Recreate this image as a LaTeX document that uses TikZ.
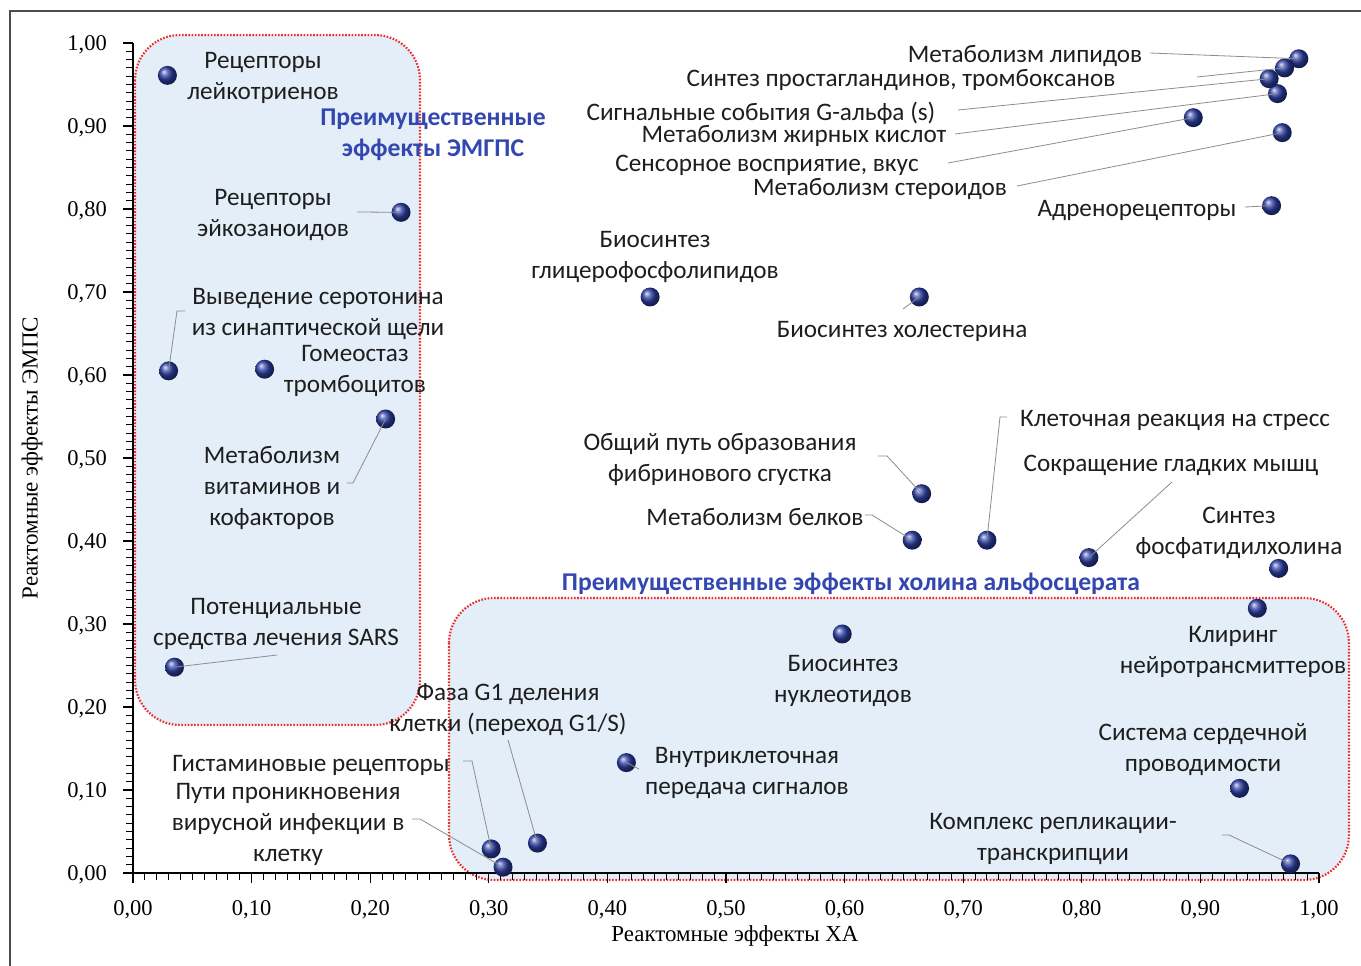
\documentclass[tikz,border=0pt]{standalone}
\usepackage{fontspec}
\setmainfont{Liberation Serif}
\newfontfamily\lblfont{Carlito}
\usepackage{tikz}
\usetikzlibrary{positioning,calc}
\definecolor{dotblue}{HTML}{2D40A6}
\definecolor{zoneblue}{HTML}{E4EEF8}
\definecolor{zonered}{HTML}{EE2A2A}
\definecolor{ttlblue}{HTML}{3347B0}
\definecolor{leadgray}{HTML}{8C8C8C}
\definecolor{txtdark}{HTML}{1E1E1E}

\begin{document}
\begin{tikzpicture}[x=1pt,y=-1pt,font=\lblfont\fontsize{25.2}{31}\selectfont]
        \tikzstyle{zone}=[fill=zoneblue,draw=zonered,line width=2.2pt,dash pattern=on 1.6pt off 1.6pt]
        \tikzstyle{lbl}=[align=center,inner sep=0pt,text=txtdark,yshift=-2pt]
        \tikzstyle{ttl}=[align=center,inner sep=0pt,text=ttlblue,yshift=-1pt,font=\lblfont\bfseries\fontsize{25.6}{31.5}\selectfont]
        \tikzstyle{pt}=[circle,inner sep=0pt,minimum size=19pt,shading=ball,ball color=dotblue]
        \tikzstyle{lead}=[draw=leadgray,line width=0.8pt]
        \tikzstyle{axis}=[line width=1.2pt,black]
        \tikzstyle{num}=[inner sep=0pt,font=\fontsize{22.5}{26}\selectfont]
        \useasboundingbox (0,0) rectangle (1361,966);
        \draw[line width=1.2pt,black!70] (10,966) -- (10,11) -- (1361,11);
        % highlighted regions
        \draw[zone,rounded corners=45pt] (135,35) rectangle (420,725);
        \draw[zone,rounded corners=45pt] (449,598) rectangle (1349,880);
        % axes in data units
        \begin{scope}[shift={(133,873)},x=1186pt,y=830pt]
          \draw[axis] (0,1) -- (0,0) -- (1,0);
          \foreach \i in {0,...,100} {
            \draw[axis,line width=0.9pt] (\i/100,0) -- ++(0,-7pt);
            \draw[axis,line width=0.9pt] (0,\i/100) -- ++(-7pt,0);
          }
          \foreach \i in {0,...,10} {
            \draw[axis] (\i/10,0) -- ++(0,-10pt);
            \draw[axis] (0,\i/10) -- ++(-10pt,0);
            \node[num,anchor=east,xshift=-26pt,yshift=-2pt] at (0,\i/10) {\ifnum\i<10 0,\i0\else 1,00\fi};
            \node[num,yshift=-37pt] at (\i/10,0) {\ifnum\i<10 0,\i0\else 1,00\fi};
          }
          % data points
          \node[pt] (dLeuk)   at (0.029,0.961) {};
          \node[pt] (dEico)   at (0.226,0.796) {};
          \node[pt] (dSero)   at (0.030,0.605) {};
          \node[pt] (dThromb) at (0.111,0.607) {};
          \node[pt] (dVit)    at (0.213,0.547) {};
          \node[pt] (dSars)   at (0.035,0.248) {};
          \node[pt] (dHist)   at (0.302,0.029) {};
          \node[pt] (dVir)    at (0.312,0.007) {};
          \node[pt] (dGone)   at (0.341,0.036) {};
          \node[pt] (dSig)    at (0.416,0.133) {};
          \node[pt] (dNucl)   at (0.598,0.288) {};
          \node[pt] (dClear)  at (0.948,0.319) {};
          \node[pt] (dPhos)   at (0.966,0.367) {};
          \node[pt] (dCard)   at (0.933,0.102) {};
          \node[pt] (dRepl)   at (0.976,0.011) {};
          \node[pt] (dSmooth) at (0.806,0.380) {};
          \node[pt] (dStress) at (0.720,0.401) {};
          \node[pt] (dProt)   at (0.657,0.401) {};
          \node[pt] (dFibr)   at (0.665,0.457) {};
          \node[pt] (dChol)   at (0.663,0.694) {};
          \node[pt] (dGlyc)   at (0.436,0.694) {};
          \node[pt] (dAdr)    at (0.960,0.804) {};
          \node[pt] (dSter)   at (0.969,0.892) {};
          \node[pt] (dSens)   at (0.894,0.910) {};
          \node[pt] (dFat)    at (0.965,0.939) {};
          \node[pt] (dLip)    at (0.983,0.981) {};
          \node[pt] (dProst)  at (0.971,0.970) {};
          \node[pt] (dGalpha) at (0.958,0.957) {};
        \end{scope}
        \node[num,font=\fontsize{22.9}{26}\selectfont] (xttl) at (735,936) {Реактомные эффекты ХА};
        \node[num,rotate=90,font=\fontsize{23}{26}\selectfont] (yttl) at (32,458) {Реактомные эффекты ЭМПС};
        % group titles
        \node[ttl] (tEmps) at (433,134) {Преимущественные\\эффекты ЭМГПС};
        \node[ttl] (tChol) at (851,583) {Преимущественные эффекты холина альфосцерата};
        % labels
        \node[lbl] (lLeuk)   at (263,76)   {Рецепторы\\лейкотриенов};
        \node[lbl] (lEico)   at (273,213)  {Рецепторы\\эйкозаноидов};
        \node[lbl] (lSero)   at (318,312)  {Выведение серотонина\\из синаптической щели};
        \node[lbl] (lThromb) at (355,369)  {Гомеостаз\\тромбоцитов};
        \node[lbl] (lVit)    at (272,486)  {Метаболизм\\витаминов и\\кофакторов};
        \node[lbl] (lSars)   at (276,622)  {Потенциальные\\средства лечения SARS};
        \node[lbl] (lHist)   at (311,763)  {Гистаминовые рецепторы};
        \node[lbl] (lVir)    at (288,822)  {Пути проникновения\\вирусной инфекции в\\клетку};
        \node[lbl] (lGone)   at (508,708)  {Фаза G1 деления\\клетки (переход G1/S)};
        \node[lbl] (lSig)    at (747,771)  {Внутриклеточная\\передача сигналов};
        \node[lbl] (lNucl)   at (843,679)  {Биосинтез\\нуклеотидов};
        \node[lbl] (lClear)  at (1233,650) {Клиринг\\нейротрансмиттеров};
        \node[lbl] (lCard)   at (1203,748) {Система сердечной\\проводимости};
        \node[lbl] (lRepl)   at (1053,837) {Комплекс репликации-\\транскрипции};
        \node[lbl] (lPhos)   at (1239,531) {Синтез\\фосфатидилхолина};
        \node[lbl] (lSmooth) at (1171,463) {Сокращение гладких мышц};
        \node[lbl] (lStress) at (1175,418) {Клеточная реакция на стресс};
        \node[lbl] (lProt)   at (755,515)  {Метаболизм белков};
        \node[lbl] (lFibr)   at (720,457)  {Общий путь образования\\фибринового сгустка};
        \node[lbl] (lChol)   at (902,329)  {Биосинтез холестерина};
        \node[lbl] (lGlyc)   at (655,255)  {Биосинтез\\глицерофосфолипидов};
        \node[lbl] (lAdr)    at (1137,208) {Адренорецепторы};
        \node[lbl] (lSter)   at (880,187)  {Метаболизм стероидов};
        \node[lbl] (lSens)   at (767,163)  {Сенсорное восприятие, вкус};
        \node[lbl] (lFat)    at (794,134)  {Метаболизм жирных кислот};
        \node[lbl] (lGalpha) at (761,111)  {Сигнальные события G-альфа (s)};
        \node[lbl] (lProst)  at (901,78)   {Синтез простагландинов, тромбоксанов};
        \node[lbl] (lLip)    at (1025,54)  {Метаболизм липидов};
        % leader lines
        \coordinate (cEico)   at (357,212);
        \coordinate (cSero)   at (185,311);
        \coordinate (cVit)    at (347,483);
        \coordinate (cSars)   at (277,655);
        \coordinate (cHist)   at (463,761);
        \coordinate (cVir)    at (412,819);
        \coordinate (cGone)   at (508,740);
        \coordinate (cSig)    at (639,769);
        \coordinate (cRepl)   at (1222,835);
        \coordinate (cProt)   at (865,515);
        \coordinate (cFibr)   at (878,456);
        \coordinate (cStress) at (1007,417);
        \coordinate (cChol)   at (903,309);
        \coordinate (cSmooth) at (1172,482);
        \coordinate (cAdr)    at (1245,207);
        \coordinate (cSter)   at (1017,186);
        \coordinate (cSens)   at (948,163);
        \coordinate (cFat)    at (955,134);
        \coordinate (cGalpha) at (958,110);
        \coordinate (cProst)  at (1197,77);
        \coordinate (cLip)    at (1150,53);
        \draw[lead] (cEico) -- (dEico.center);
        \draw[lead] (cSero) -- ++(-8,0) -- (dSero.center);
        \draw[lead] (cVit) -- ++(6,0) -- (dVit.center);
        \draw[lead] (cSars) -- (dSars.center);
        \draw[lead] (cHist) -- ++(9,0) -- (dHist.center);
        \draw[lead] (cVir) -- ++(8,0) -- (dVir.center);
        \draw[lead] (cGone) -- (dGone.center);
        \draw[lead] (cSig) -- (dSig.center);
        \draw[lead] (cRepl) -- ++(7,0) -- (dRepl.center);
        \draw[lead] (cProt) -- ++(7,0) -- (dProt.center);
        \draw[lead] (cFibr) -- ++(9,0) -- (dFibr.center);
        \draw[lead] (cStress) -- ++(-7,0) -- (dStress.center);
        \draw[lead] (cChol) -- (dChol.center);
        \draw[lead] (cSmooth) -- (dSmooth.center);
        \draw[lead] (cAdr) -- (dAdr.center);
        \draw[lead] (cSter) -- (dSter.center);
        \draw[lead] (cSens) -- (dSens.center);
        \draw[lead] (cFat) -- (dFat.center);
        \draw[lead] (cGalpha) -- (dGalpha.center);
        \draw[lead] (cProst) -- (dProst.center);
        \draw[lead] (cLip) -- (dLip.center);
      \end{tikzpicture}
\end{document}
